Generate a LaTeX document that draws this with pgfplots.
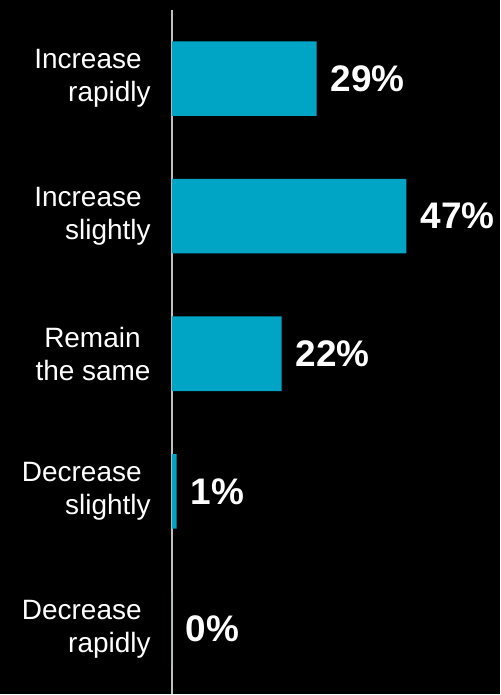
\documentclass[border=0pt]{standalone}
\usepackage{pgfplots}
\pgfplotsset{compat=1.18}
\usepackage{fontspec}
\setmainfont{Liberation Sans}
\definecolor{barteal}{RGB}{0,165,198}
\definecolor{axisgray}{RGB}{191,191,191}
\begin{document}
\begin{tikzpicture}
\fill[black] (0pt,0pt) rectangle (501pt,695pt);
\begin{axis}[
  at={(172pt,0pt)}, anchor=south west,
  scale only axis, width=329pt, height=685pt,
  xbar, bar width=74.7pt,
  xmin=0, xmax=65.8,
  ymin=-0.473, ymax=4.4985,
  axis x line=none,
  axis y line=left,
  y axis line style={draw=axisgray, line width=2pt, -},
  major tick length=0pt,
  ytick={0,1,2,3,4},
  yticklabels={{Decrease\hspace*{9pt}\\rapidly},{Decrease\hspace*{9pt}\\slightly},{Remain\hspace*{10pt}\\the same},{Increase\hspace*{9pt}\\slightly},{Increase\hspace*{9pt}\\rapidly}},
  yticklabel style={align=right, text=white, inner sep=0pt, xshift=-21pt, font=\fontsize{28}{33}\selectfont},
  clip=false,
  point meta=explicit symbolic,
  nodes near coords,
  nodes near coords style={anchor=west, inner sep=0pt, xshift=14pt, text=white, font=\bfseries\fontsize{37}{40}\selectfont},
]
\addplot[fill=barteal, draw=none] coordinates {
  (29,4) [29\%]
  (47,3) [47\%]
  (22,2) [22\%]
  (1,1) [1\%]
  (0,0) [0\%]
};
\end{axis}
\end{tikzpicture}
\end{document}
